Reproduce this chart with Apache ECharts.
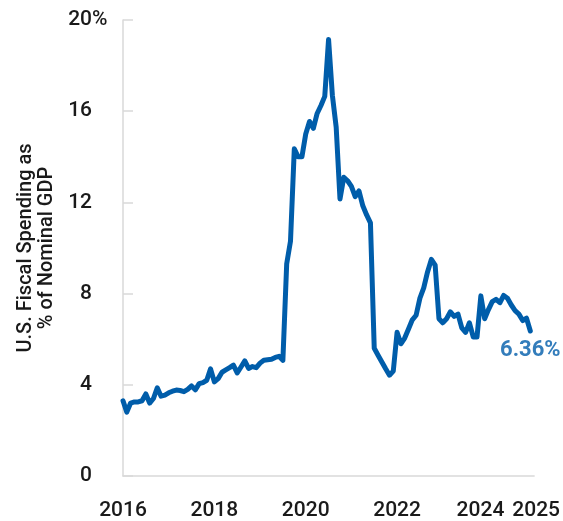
<!DOCTYPE html>
<html>
<head>
<meta charset="utf-8">
<script src="https://cdn.jsdelivr.net/npm/echarts@6/dist/echarts.min.js"></script>
<style>
  html, body { margin: 0; padding: 0; background: #ffffff; }
  #chart { width: 563px; height: 521px; }
</style>
</head>
<body>
<div id="chart"></div>
<script>
// Monthly U.S. fiscal spending as % of nominal GDP, Jan..Dec of each year
const v2016 = [3.3, 2.8, 3.2, 3.25, 3.25, 3.3, 3.6, 3.2, 3.4, 3.87, 3.5, 3.55];
const v2017 = [3.65, 3.72, 3.77, 3.75, 3.7, 3.8, 3.95, 3.78, 4.05, 4.1, 4.2, 4.7];
const v2018 = [4.13, 4.27, 4.55, 4.65, 4.75, 4.86, 4.52, 4.78, 5.05, 4.72, 4.8, 4.75];
const v2019 = [4.95, 5.08, 5.1, 5.12, 5.2, 5.25, 5.07, 9.3, 10.3, 14.35, 14.0, 14.0];
const v2020 = [15.0, 15.55, 15.25, 15.9, 16.25, 16.65, 19.15, 16.7, 15.3, 12.15, 13.1, 12.95];
const v2021 = [12.7, 12.25, 12.5, 11.85, 11.45, 11.1, 5.6, 5.3, 5.0, 4.7, 4.42, 4.6];
const v2022 = [6.3, 5.8, 6.05, 6.45, 6.85, 7.05, 7.8, 8.25, 8.95, 9.5, 9.25, 6.9];
const v2023 = [6.72, 6.9, 7.2, 7.0, 7.1, 6.5, 6.3, 6.72, 6.1, 6.1, 7.9, 6.9];
const v2024 = [7.3, 7.65, 7.75, 7.6, 7.92, 7.8, 7.5, 7.25, 7.1, 6.82, 6.92, 6.36];

const startYear = 2016;
const yearSeries = [v2016, v2017, v2018, v2019, v2020, v2021, v2022, v2023, v2024];
const xLabelYears = [2016, 2018, 2020, 2022, 2024, 2025];
const yTicks = [0, 4, 8, 12, 16, 20];
const yAxisTitle = 'U.S. Fiscal Spending as\n% of Nominal GDP';

const BLUE = '#005DAA';
const GREY = '#d9d9d9';
const TEXT = '#1a1a1a';
const FONT = 'Roboto, "Liberation Sans", Arial, sans-serif';

const points = [];
yearSeries.forEach(function (arr, yi) {
  arr.forEach(function (v, mi) {
    points.push([startYear + yi + mi / 12, v]);
  });
});
const last = points[points.length - 1];

const chart = echarts.init(document.getElementById('chart'), null, { renderer: 'canvas' });
chart.setOption({
  animation: false,
  backgroundColor: '#ffffff',
  grid: { left: 123, right: 28, top: 20, bottom: 41, containLabel: false },
  xAxis: {
    type: 'value',
    min: 2016,
    max: 2025,
    interval: 1,
    axisLine: { show: true, lineStyle: { color: GREY, width: 1.5 } },
    axisTick: { show: false },
    splitLine: { show: false },
    axisLabel: {
      margin: 24,
      fontSize: 21,
      fontWeight: 500,
      color: TEXT,
      fontFamily: FONT,
      showMinLabel: true,
      showMaxLabel: true,
      formatter: function (v) {
        const y = Math.round(v);
        if (xLabelYears.indexOf(y) < 0) return '';
        if (y === 2024) return '{l|' + y + '}';
        if (y === 2025) return '{r|' + y + '}';
        return String(y);
      },
      rich: {
        l: { fontSize: 21, fontWeight: 500, color: TEXT, fontFamily: FONT, padding: [0, 16, 0, 0] },
        r: { fontSize: 21, fontWeight: 500, color: TEXT, fontFamily: FONT, padding: [0, 0, 0, 4] }
      }
    }
  },
  yAxis: [{
    type: 'value',
    min: 0,
    max: 20,
    interval: 4,
    position: 'left',
    name: yAxisTitle,
    nameLocation: 'middle',
    nameGap: 66,
    nameTextStyle: { fontSize: 20, fontWeight: 500, lineHeight: 21, color: TEXT, fontFamily: FONT, align: 'center' },
    axisLine: { show: true, lineStyle: { color: GREY, width: 1.5 } },
    axisTick: { show: true, inside: true, length: 10, lineStyle: { color: GREY, width: 1.5 } },
    splitLine: { show: false },
    axisLabel: {
      margin: 31,
      align: 'right',
      padding: [4, 0, 0, 0],
      fontSize: 21,
      fontWeight: 500,
      color: TEXT,
      fontFamily: FONT,
      formatter: function (v) { return yTicks.indexOf(v) >= 0 ? String(v) : ''; }
    }
  }, {
    type: 'value',
    min: 0,
    max: 20,
    interval: 4,
    position: 'left',
    axisLine: { show: false },
    axisTick: { show: false },
    splitLine: { show: false },
    axisLabel: {
      margin: 31,
      align: 'left',
      padding: [4, 0, 0, 0],
      fontSize: 21,
      fontWeight: 500,
      color: TEXT,
      fontFamily: FONT,
      formatter: function (v) { return v === 20 ? '%' : ''; }
    }
  }],
  series: [{
    type: 'line',
    data: points,
    yAxisIndex: 0,
    showSymbol: false,
    symbol: 'none',
    smooth: false,
    lineStyle: { color: BLUE, width: 5, join: 'round', cap: 'round' },
    itemStyle: { color: BLUE },
    emphasis: { disabled: true }
  }, {
    type: 'scatter',
    data: [last],
    yAxisIndex: 0,
    symbolSize: 0.01,
    itemStyle: { color: BLUE },
    emphasis: { disabled: true },
    label: {
      show: true,
      position: 'bottom',
      distance: 9,
      formatter: function (p) { return p.value[1].toFixed(2) + '%'; },
      color: BLUE,
      fontWeight: 'bold',
      fontSize: 22,
      fontFamily: FONT
    }
  }]
});
</script>
</body>
</html>
